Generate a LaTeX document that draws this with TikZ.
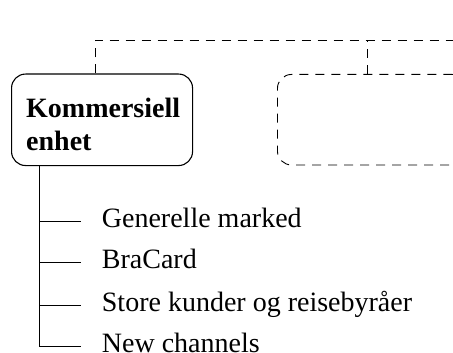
\documentclass[tikz,border=0pt]{standalone}
\usepackage{fontspec}
\setmainfont{Liberation Serif}
\begin{document}
\begin{tikzpicture}[x=1pt, y=-1pt,
  unitbox/.style={draw, rounded corners=14pt, line width=1.1pt, inner sep=0pt},
  sparebox/.style={draw, rounded corners=14pt, line width=0.9pt, dash pattern=on 9pt off 7pt, inner sep=0pt},
  bus/.style={line width=0.9pt, dash pattern=on 9pt off 7pt},
  tree/.style={line width=0.9pt},
  itemtext/.style={anchor=west, inner sep=0pt, text height=17pt, text depth=5pt,
    font=\fontsize{28}{33}\selectfont},
  unittext/.style={anchor=north west, inner sep=0pt, align=left,
    font=\bfseries\fontsize{28}{33}\selectfont}]
  \useasboundingbox (0,0) rectangle (453,353);
  \clip (0,0) rectangle (453,353);

  % organisational units
  \node[unitbox, minimum width=181pt, minimum height=91.5pt, anchor=north west] (unit) at (11,73.5) {};
  \node[unittext] (unitlabel) at (26,98.1) {Kommersiell\\enhet};
  \node[sparebox, minimum width=189pt, minimum height=90.5pt, anchor=north west] (spare) at (277,74) {};

  % dashed bus above the units
  \coordinate (busL) at (95,40);
  \coordinate (busJ) at (367,40);
  \coordinate (busR) at (475,40);
  \draw[bus] (unit.north -| busL) -- (busL) -- (busR);
  \draw[bus] (spare.north -| busJ) -- (busJ);

  % sub-units
  \coordinate (trunk) at (39.5,170);
  \node[itemtext] (i1) at (101.7,221.5) {Generelle marked};
  \node[itemtext] (i2) at (101.7,262.5) {BraCard};
  \node[itemtext] (i3) at (101.7,305.3) {Store kunder og reisebyråer};
  \node[itemtext] (i4) at (101.7,346) {New channels};

  \draw[tree] (unit.south -| trunk) -- (trunk |- i4.west) -- ([xshift=-21pt]i4.west);
  \foreach \i in {i1,i2,i3}
    \draw[tree] (trunk |- \i.west) -- ([xshift=-21pt]\i.west);
\end{tikzpicture}
\end{document}
